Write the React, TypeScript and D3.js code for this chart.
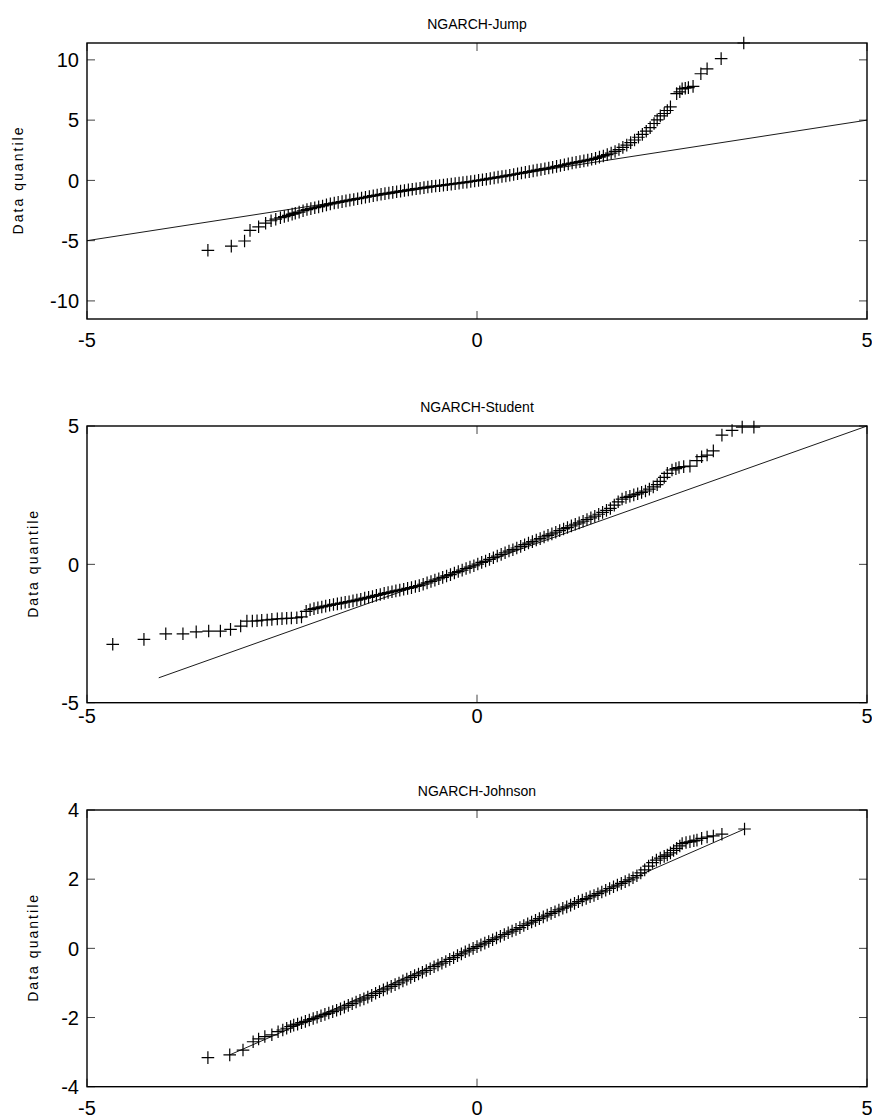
import React from 'react';
import * as d3 from 'd3';

// QQ plot readings: [standard normal quantile, data quantile]
const jumpPoints: [number, number][] = [
  [-3.45, -5.8], [-3.15, -5.45], [-2.98, -5.03], [-2.91, -4.15], [-2.8, -3.85], [-2.71, -3.55],
  [-2.64, -3.35], [-2.58, -3.22], [-2.52, -3.1], [-2.47, -3.0], [-2.42, -2.9], [-2.37, -2.8],
  [-2.33, -2.72], [-2.28, -2.63], [-2.23, -2.52], [-2.18, -2.42], [-2.13, -2.34], [-2.08, -2.27],
  [-2.03, -2.2], [-1.98, -2.12], [-1.93, -2.03], [-1.88, -1.95], [-1.83, -1.88], [-1.78, -1.82],
  [-1.73, -1.76], [-1.68, -1.7], [-1.63, -1.64], [-1.58, -1.58], [-1.53, -1.52], [-1.48, -1.46],
  [-1.43, -1.4], [-1.38, -1.33], [-1.33, -1.27], [-1.28, -1.21], [-1.23, -1.15], [-1.18, -1.1],
  [-1.13, -1.05], [-1.08, -0.99], [-1.03, -0.94], [-0.98, -0.89], [-0.93, -0.84], [-0.88, -0.79],
  [-0.83, -0.74], [-0.78, -0.69], [-0.73, -0.65], [-0.68, -0.6], [-0.63, -0.55], [-0.58, -0.5],
  [-0.53, -0.47], [-0.48, -0.43], [-0.43, -0.39], [-0.38, -0.35], [-0.33, -0.31], [-0.28, -0.27],
  [-0.23, -0.23], [-0.18, -0.18], [-0.13, -0.14], [-0.08, -0.09], [-0.03, -0.05], [0.02, 0.0],
  [0.07, 0.05], [0.12, 0.1], [0.17, 0.16], [0.22, 0.21], [0.27, 0.27], [0.32, 0.32],
  [0.37, 0.37], [0.42, 0.43], [0.47, 0.49], [0.52, 0.55], [0.57, 0.61], [0.62, 0.67],
  [0.67, 0.73], [0.72, 0.79], [0.77, 0.85], [0.82, 0.91], [0.87, 0.97], [0.92, 1.03],
  [0.97, 1.09], [1.02, 1.16], [1.07, 1.23], [1.12, 1.3], [1.17, 1.37], [1.22, 1.44],
  [1.27, 1.5], [1.32, 1.56], [1.37, 1.62], [1.42, 1.68], [1.47, 1.75], [1.52, 1.83],
  [1.57, 1.93], [1.62, 2.03], [1.67, 2.14], [1.72, 2.27], [1.77, 2.4], [1.82, 2.56],
  [1.87, 2.74], [1.92, 2.93], [1.97, 3.13], [2.02, 3.35], [2.07, 3.58], [2.12, 3.82],
  [2.17, 4.08], [2.22, 4.38], [2.27, 4.72], [2.31, 5.02], [2.35, 5.35], [2.4, 5.55],
  [2.44, 5.8], [2.48, 6.1], [2.56, 7.2], [2.6, 7.35], [2.63, 7.6], [2.67, 7.65],
  [2.71, 7.7], [2.77, 7.8], [2.87, 8.85], [2.95, 9.26], [3.13, 10.1], [3.42, 11.4],
];

const studentPoints: [number, number][] = [
  [-4.67, -2.89], [-4.27, -2.71], [-3.99, -2.51], [-3.77, -2.51], [-3.6, -2.44], [-3.44, -2.41],
  [-3.29, -2.41], [-3.16, -2.35], [-3.03, -2.23], [-2.95, -2.05], [-2.88, -2.05], [-2.82, -2.04],
  [-2.76, -2.02], [-2.69, -2.01], [-2.63, -1.99], [-2.56, -1.97], [-2.5, -1.96], [-2.44, -1.95],
  [-2.38, -1.94], [-2.31, -1.93], [-2.25, -1.9], [-2.19, -1.7], [-2.14, -1.64], [-2.09, -1.6],
  [-2.04, -1.57], [-1.99, -1.54], [-1.94, -1.51], [-1.89, -1.48], [-1.84, -1.45], [-1.79, -1.43],
  [-1.74, -1.4], [-1.69, -1.37], [-1.64, -1.35], [-1.59, -1.32], [-1.54, -1.29], [-1.49, -1.26],
  [-1.44, -1.22], [-1.39, -1.19], [-1.34, -1.16], [-1.29, -1.12], [-1.24, -1.09], [-1.19, -1.05],
  [-1.14, -1.02], [-1.09, -0.99], [-1.04, -0.96], [-0.99, -0.93], [-0.94, -0.9], [-0.89, -0.87],
  [-0.84, -0.84], [-0.79, -0.8], [-0.74, -0.77], [-0.69, -0.72], [-0.64, -0.67], [-0.59, -0.62],
  [-0.54, -0.57], [-0.49, -0.52], [-0.44, -0.47], [-0.39, -0.42], [-0.34, -0.37], [-0.29, -0.31],
  [-0.24, -0.26], [-0.19, -0.21], [-0.14, -0.15], [-0.09, -0.1], [-0.04, -0.05], [0.01, 0.01],
  [0.06, 0.07], [0.11, 0.12], [0.16, 0.18], [0.21, 0.24], [0.26, 0.3], [0.31, 0.36],
  [0.36, 0.42], [0.41, 0.48], [0.46, 0.53], [0.51, 0.59], [0.56, 0.65], [0.61, 0.71],
  [0.66, 0.77], [0.71, 0.82], [0.76, 0.88], [0.81, 0.93], [0.86, 0.99], [0.91, 1.05],
  [0.96, 1.1], [1.01, 1.16], [1.06, 1.22], [1.11, 1.28], [1.16, 1.33], [1.21, 1.39],
  [1.26, 1.45], [1.31, 1.5], [1.36, 1.56], [1.41, 1.62], [1.46, 1.68], [1.51, 1.74],
  [1.56, 1.81], [1.61, 1.88], [1.66, 1.95], [1.71, 2.02], [1.76, 2.14], [1.81, 2.26],
  [1.86, 2.36], [1.91, 2.42], [1.96, 2.46], [2.01, 2.51], [2.06, 2.55], [2.11, 2.6],
  [2.16, 2.65], [2.21, 2.72], [2.26, 2.8], [2.31, 2.88], [2.35, 3.0], [2.4, 3.14],
  [2.44, 3.29], [2.5, 3.41], [2.55, 3.46], [2.59, 3.5], [2.65, 3.53], [2.73, 3.55],
  [2.82, 3.75], [2.88, 3.89], [2.95, 3.95], [3.03, 4.1], [3.14, 4.67], [3.27, 4.84],
  [3.4, 4.96], [3.55, 4.96],
];

const johnsonPoints: [number, number][] = [
  [-3.45, -3.16], [-3.17, -3.08], [-3.0, -2.94], [-2.87, -2.7], [-2.8, -2.62], [-2.72, -2.55],
  [-2.63, -2.5], [-2.55, -2.41], [-2.49, -2.36], [-2.44, -2.31], [-2.39, -2.26], [-2.35, -2.22],
  [-2.3, -2.19], [-2.25, -2.15], [-2.2, -2.11], [-2.15, -2.07], [-2.1, -2.03], [-2.05, -1.99],
  [-2.0, -1.95], [-1.95, -1.91], [-1.9, -1.87], [-1.85, -1.83], [-1.8, -1.79], [-1.75, -1.75],
  [-1.7, -1.7], [-1.65, -1.65], [-1.6, -1.6], [-1.55, -1.55], [-1.5, -1.5], [-1.45, -1.46],
  [-1.4, -1.41], [-1.35, -1.36], [-1.3, -1.3], [-1.25, -1.25], [-1.2, -1.2], [-1.15, -1.15],
  [-1.1, -1.1], [-1.05, -1.05], [-1.0, -1.0], [-0.95, -0.94], [-0.9, -0.89], [-0.85, -0.84],
  [-0.8, -0.79], [-0.75, -0.74], [-0.7, -0.69], [-0.65, -0.64], [-0.6, -0.59], [-0.55, -0.53],
  [-0.5, -0.48], [-0.45, -0.43], [-0.4, -0.38], [-0.35, -0.32], [-0.3, -0.27], [-0.25, -0.21],
  [-0.2, -0.16], [-0.15, -0.1], [-0.1, -0.05], [-0.05, 0.0], [0.0, 0.05], [0.05, 0.1],
  [0.1, 0.15], [0.15, 0.2], [0.2, 0.25], [0.25, 0.3], [0.3, 0.35], [0.35, 0.4],
  [0.4, 0.45], [0.45, 0.5], [0.5, 0.55], [0.55, 0.6], [0.6, 0.66], [0.65, 0.71],
  [0.7, 0.76], [0.75, 0.81], [0.8, 0.86], [0.85, 0.91], [0.9, 0.96], [0.95, 1.01],
  [1.0, 1.06], [1.05, 1.11], [1.1, 1.16], [1.15, 1.2], [1.2, 1.25], [1.25, 1.3],
  [1.3, 1.35], [1.35, 1.4], [1.4, 1.44], [1.45, 1.49], [1.5, 1.53], [1.55, 1.58],
  [1.6, 1.63], [1.65, 1.68], [1.7, 1.73], [1.75, 1.78], [1.8, 1.83], [1.85, 1.88],
  [1.9, 1.93], [1.95, 1.98], [2.0, 2.04], [2.05, 2.1], [2.1, 2.18], [2.15, 2.27],
  [2.2, 2.38], [2.25, 2.48], [2.3, 2.55], [2.35, 2.61], [2.4, 2.66], [2.44, 2.7],
  [2.48, 2.76], [2.52, 2.83], [2.56, 2.89], [2.6, 2.96], [2.63, 3.03], [2.68, 3.06],
  [2.73, 3.08], [2.78, 3.11], [2.82, 3.13], [2.88, 3.18], [2.95, 3.22], [3.03, 3.25],
  [3.14, 3.3], [3.43, 3.45],
];

// reference line end points
const jumpLine: [number, number][] = [[-5, -5], [5, 5]];
const studentLine: [number, number][] = [[-4.08, -4.1], [5, 5]];
const johnsonLine: [number, number][] = [[-3.17, -3.08], [3.43, 3.45]];

const xTicks = [-5, 0, 5];
const jumpYTicks = [-10, -5, 0, 5, 10];
const studentYTicks = [-5, 0, 5];
const johnsonYTicks = [-4, -2, 0, 2, 4];

const titles = ['NGARCH-Jump', 'NGARCH-Student', 'NGARCH-Johnson'];

const W = 872;
const H = 1120;
const left = 87;
const right = 867;
const font = '"Liberation Sans", Arial, Helvetica, sans-serif';

type PanelProps = {
  title: string;
  points: [number, number][];
  line: [number, number][];
  yTicks: number[];
  yDomain: [number, number];
  top: number;
  bottom: number;
  xLabelBase: number;
  yLabelX: number;
};

const Panel = ({ title, points, line, yTicks, yDomain, top, bottom, xLabelBase, yLabelX }: PanelProps) => {
  const x = d3.scaleLinear().domain([-5, 5]).range([left, right]);
  const y = d3.scaleLinear().domain(yDomain).range([bottom, top]);
  const s = 6.3;
  const marks = points
    .map(([a, b]) => {
      const px = x(a), py = y(b);
      return `M${px - s},${py}H${px + s}M${px},${py - s}V${py + s}`;
    })
    .join('');
  const lineGen = d3.line<[number, number]>().x((d) => x(d[0])).y((d) => y(d[1]));
  const tl = 8;
  const midY = (top + bottom) / 2;

  return (
    <g>
      <text x={x(0)} y={top - 14} textAnchor="middle" fontFamily={font} fontSize={14}>
        {title}
      </text>
      <text
        transform={`translate(${yLabelX},${midY}) rotate(-90)`}
        textAnchor="middle"
        fontFamily={font}
        fontSize={14}
        textLength={107}
        lengthAdjust="spacing"
      >
        Data quantile
      </text>
      {/* ticks */}
      {xTicks.map((t) => (
        <g key={'x' + t} stroke="#444" strokeWidth={1}>
          <line x1={x(t)} x2={x(t)} y1={bottom} y2={bottom - tl} />
          <line x1={x(t)} x2={x(t)} y1={top} y2={top + tl} />
        </g>
      ))}
      {yTicks.map((t) => (
        <g key={'y' + t} stroke="#444" strokeWidth={1}>
          <line x1={left} x2={left + tl} y1={y(t)} y2={y(t)} />
          <line x1={right} x2={right - tl} y1={y(t)} y2={y(t)} />
        </g>
      ))}
      {xTicks.map((t) => (
        <text key={'xl' + t} x={x(t)} y={xLabelBase} textAnchor="middle" fontFamily={font} fontSize={20}>
          {t}
        </text>
      ))}
      {yTicks.map((t) => (
        <text
          key={'yl' + t}
          x={left - 8}
          y={y(t)}
          dy="0.36em"
          textAnchor="end"
          fontFamily={font}
          fontSize={20}
        >
          {t}
        </text>
      ))}
      <rect x={left} y={top} width={right - left} height={bottom - top} fill="none" stroke="#000" strokeWidth={1.4} />
      <path d={lineGen(line) || ''} fill="none" stroke="#000" strokeWidth={0.9} />
      <path d={marks} fill="none" stroke="#000" strokeWidth={1.2} />
    </g>
  );
};

export default function App() {
  return (
    <svg
      width={W}
      height={H}
      style={{ position: 'absolute', left: 0, top: 0, background: '#fff' }}
    >
      <rect width={W} height={H} fill="#fff" />
      <Panel
        title={titles[0]}
        points={jumpPoints}
        line={jumpLine}
        yTicks={jumpYTicks}
        yDomain={[-11.5, 11.4]}
        top={43}
        bottom={319}
        xLabelBase={347}
        yLabelX={23}
      />
      <Panel
        title={titles[1]}
        points={studentPoints}
        line={studentLine}
        yTicks={studentYTicks}
        yDomain={[-5, 5]}
        top={426}
        bottom={702.7}
        xLabelBase={723}
        yLabelX={38}
      />
      <Panel
        title={titles[2]}
        points={johnsonPoints}
        line={johnsonLine}
        yTicks={johnsonYTicks}
        yDomain={[-4, 4]}
        top={810}
        bottom={1086.7}
        xLabelBase={1115}
        yLabelX={38}
      />
    </svg>
  );
}
